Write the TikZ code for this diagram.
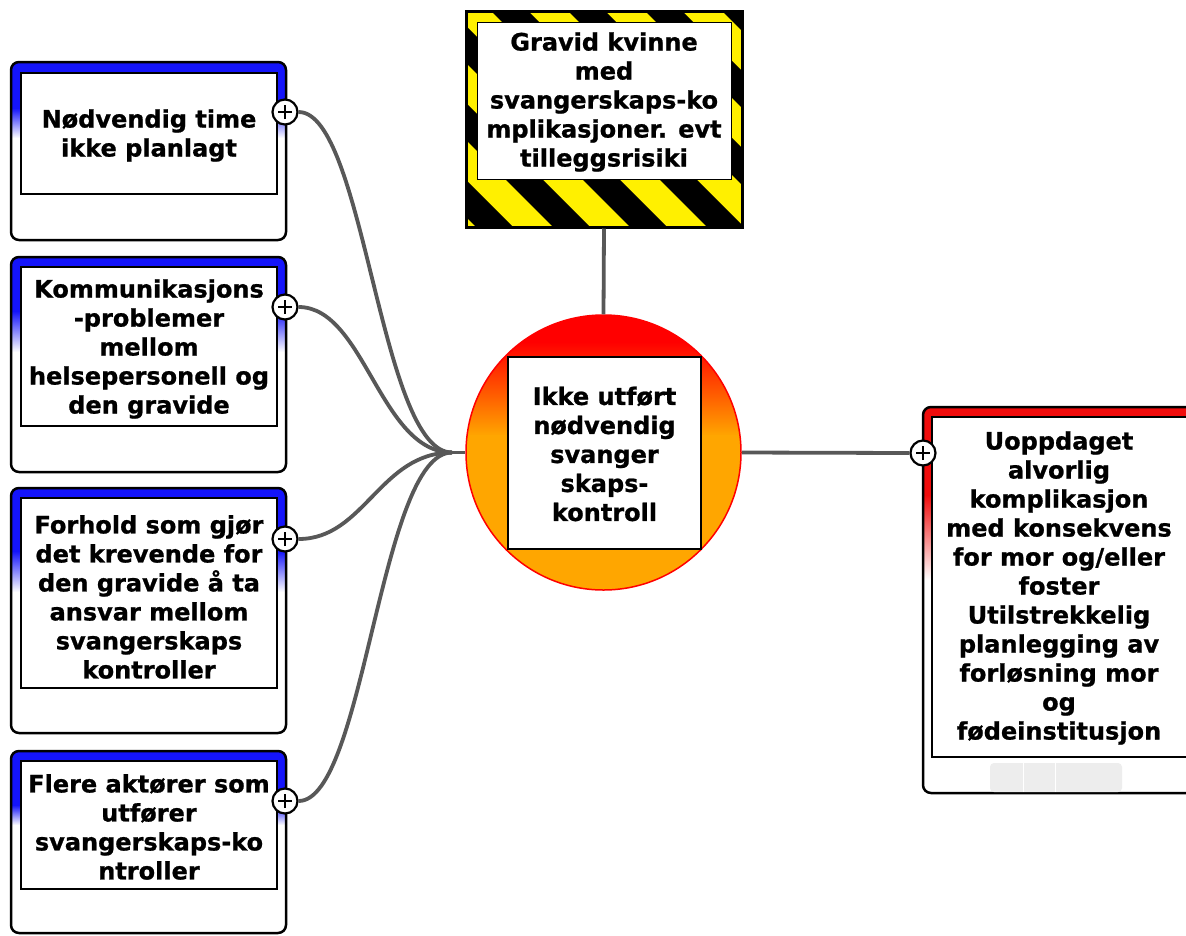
\documentclass[tikz,border=0pt]{standalone}
\usepackage{fontspec}
\setmainfont{DejaVu Sans}[BoldFeatures={FakeBold=0.9}]
\definecolor{boxblue}{RGB}{20,20,250}
\definecolor{riskred}{RGB}{240,12,12}
\definecolor{hazyellow}{RGB}{255,240,0}
\definecolor{orangefill}{RGB}{255,166,0}
\definecolor{linegray}{RGB}{88,88,88}

% rounded frame with a coloured band fading to white: x1,y1,x2,y2,solid-end,fade-end,colour
\newcommand\riskframe[7]{%
  \begin{scope}
    \clip[rounded corners=8pt] (#1,#2) rectangle (#3,#4);
    \fill[white] (#1,#2) rectangle (#3,#4);
    \fill[#7] (#1,#2) rectangle (#3,{#5+0.5});
    \shade[top color=#7, bottom color=white] (#1,#5) rectangle (#3,#6);
  \end{scope}
  \draw[framebox] (#1,#2) rectangle (#3,#4);
}

\begin{document}
\begin{tikzpicture}[x=1pt,y=-1pt,
  lbl/.style={font=\fontsize{24}{29}\selectfont\bfseries, align=center, text=black, inner sep=0pt},
  conn/.style={draw=linegray, line width=3.8pt},
  framebox/.style={draw=black, line width=2.5pt, rounded corners=8pt},
  innerbox/.style={draw=black, line width=2pt, fill=white},
  plusbtn/.style={circle, draw=black, fill=white, line width=2.2pt, minimum size=25pt, inner sep=0pt,
    path picture={
      \draw[line width=2.2pt] ([xshift=-7pt]path picture bounding box.center) -- ([xshift=7pt]path picture bounding box.center);
      \draw[line width=2.2pt] ([yshift=-7pt]path picture bounding box.center) -- ([yshift=7pt]path picture bounding box.center);
    }},
]
\useasboundingbox (0,0) rectangle (1186,935);
\clip (0,0) rectangle (1186,935);
\fill[white] (0,0) rectangle (1186,935);

% ---- causes on the left ----
\riskframe{11}{62}{286}{240}{108}{138}{boxblue}
\draw[innerbox] (21,73) rectangle (277,194);
\node[lbl] (t1) at (149,135.5) {Nødvendig time\\ikke planlagt};

\riskframe{11}{257}{286}{472}{311}{352}{boxblue}
\draw[innerbox] (21,267) rectangle (277,426);
\node[lbl] (t2) at (149,349) {Kommunikasjons\\-problemer\\mellom\\helsepersonell og\\den gravide};

\riskframe{11}{488}{286}{733}{551}{592}{boxblue}
\draw[innerbox] (21,498) rectangle (277,688);
\node[lbl] (t3) at (149,597) {Forhold som gjør\\det krevende for\\den gravide å ta\\ansvar mellom\\svangerskaps\\kontroller};

\riskframe{11}{751}{286}{933}{805}{825}{boxblue}
\draw[innerbox] (21,761) rectangle (277,889);
\node[lbl] (t4) at (149,827) {Flere aktører som\\utfører\\svangerskaps-ko\\ntroller};

% ---- consequence on the right ----
\riskframe{923}{407}{1200}{793}{495}{580}{riskred}
\draw[innerbox] (932,417) rectangle (1192,757);
\node[lbl] (t5) at (1059,588) {Uoppdaget\\alvorlig\\komplikasjon\\med konsekvens\\for mor og/eller\\foster\\Utilstrekkelig\\planlegging av\\forløsning mor\\og\\fødeinstitusjon};
\fill[gray!14, rounded corners=4pt] (990,763) rectangle (1122,792);
\draw[white, line width=1pt] (1023,763) -- (1023,792) (1055,763) -- (1055,792);

% ---- hazard sign ----
\begin{scope}
  \clip (466,11) rectangle (742,227);
  \fill[hazyellow] (466,11) rectangle (742,227);
  \foreach \c in {172,249,...,711}
    \fill[black] ({\c+11},11) -- ({\c+48},11) -- ({\c+264},227) -- ({\c+227},227) -- cycle;
\end{scope}
\node[draw=black, line width=3pt, minimum width=276pt, minimum height=216pt, inner sep=0pt] (haz) at (604,119) {};
\draw[draw=black, line width=1pt, fill=white] (477,22) rectangle (731,179);
\node[lbl] (t6) at (604,102) {Gravid kvinne\\med\\svangerskaps-ko\\mplikasjoner. evt\\tilleggsrisiki};

% ---- top event ----
\begin{scope}
  \clip (603.5,452.5) circle[radius=137.5];
  \fill[red] (466,315) rectangle (741,343);
  \shade[top color=red, bottom color=orangefill] (466,342) rectangle (741,436);
  \fill[orangefill] (466,435) rectangle (741,591);
\end{scope}
\node[circle, draw=red, line width=1.5pt, minimum size=275pt, inner sep=0pt] (ctr) at (603.5,452.5) {};
\draw[innerbox] (508,357) rectangle (701,549);
\node[lbl] (t7) at (604.5,454) {Ikke utført\\nødvendig\\svanger\\skaps-\\kontroll};

% ---- expand buttons ----
\node[plusbtn] (p1) at (285,112) {};
\node[plusbtn] (p2) at (285,307) {};
\node[plusbtn] (p3) at (285,539) {};
\node[plusbtn] (p4) at (285,801) {};
\node[plusbtn] (p5) at (923,453) {};

% ---- connectors ----
\coordinate (join) at (452,452.5);
\draw[conn] (p1.east) .. controls +(66,0) and +(-72,0) .. (join);
\draw[conn] (p2.east) .. controls +(66,0) and +(-72,0) .. (join);
\draw[conn] (p3.east) .. controls +(66,0) and +(-72,0) .. (join);
\draw[conn] (p4.east) .. controls +(66,0) and +(-72,0) .. (join);
\draw[conn] (join) -- (ctr.west);
\draw[conn] (haz.south) -- (ctr.north);
\draw[conn] (ctr.east) -- (p5.west);
\end{tikzpicture}
\end{document}
